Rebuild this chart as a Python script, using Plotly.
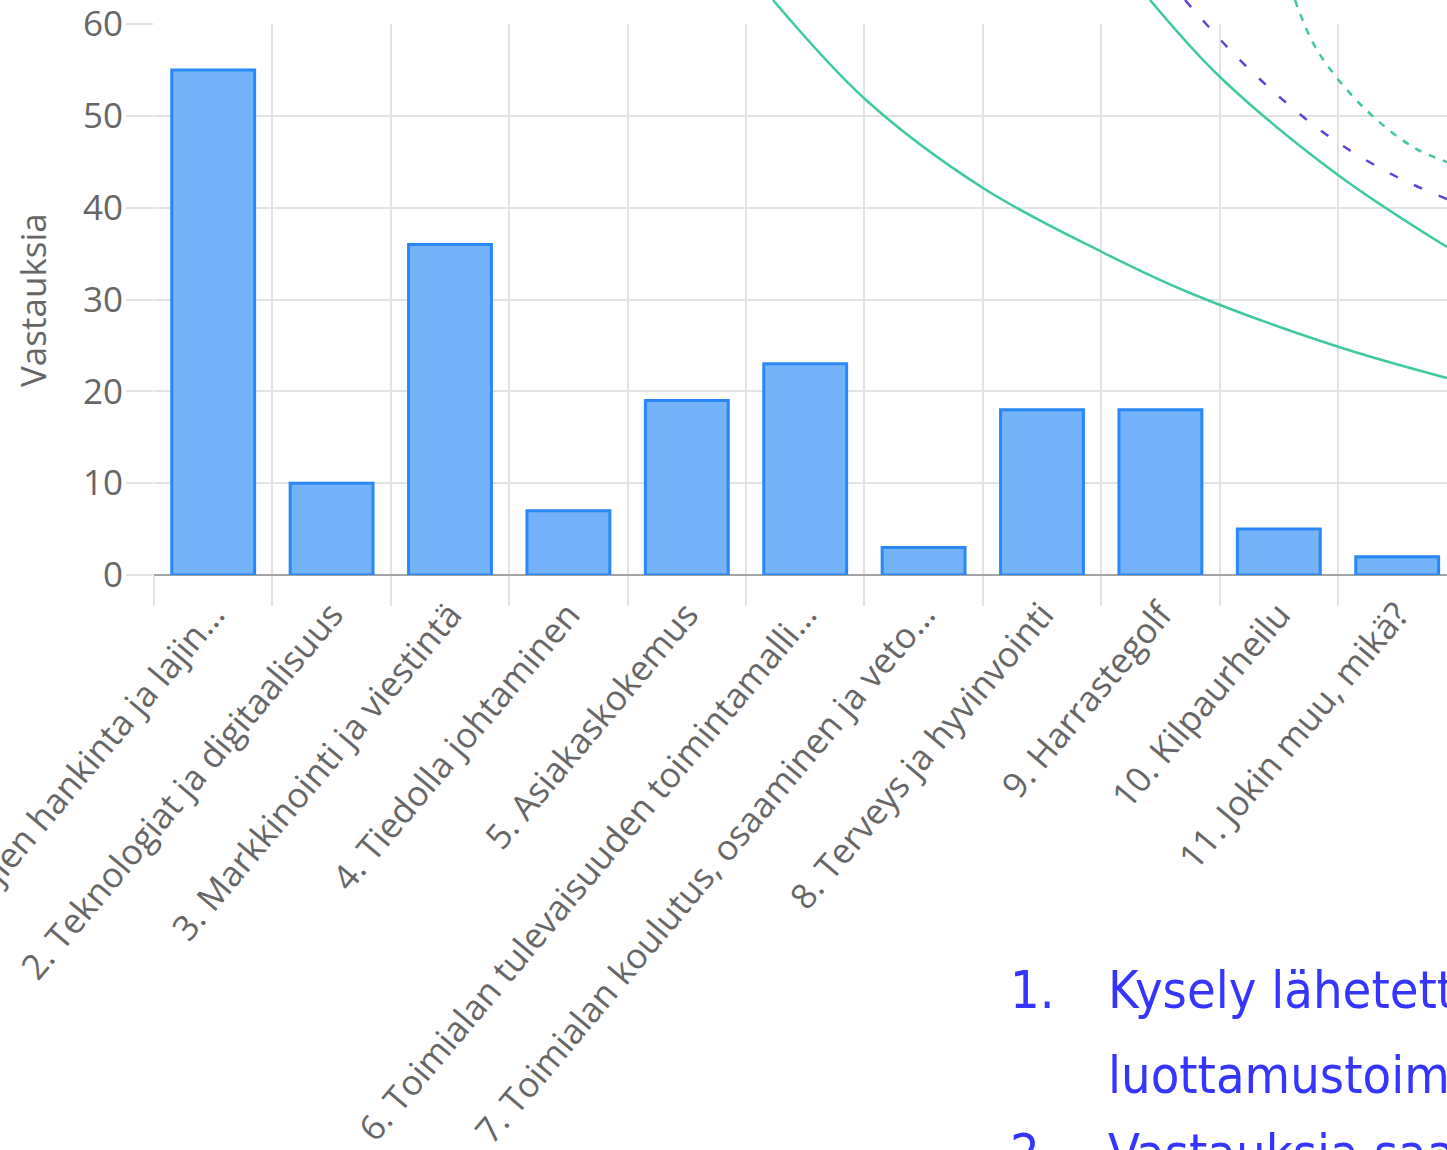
import plotly.graph_objects as go

# ---- data ----
categories = [
    "1. Uusien harrastajien hankinta ja lajin…",
    "2. Teknologiat ja digitaalisuus",
    "3. Markkinointi ja viestintä",
    "4. Tiedolla johtaminen",
    "5. Asiakaskokemus",
    "6. Toimialan tulevaisuuden toimintamalli…",
    "7. Toimialan koulutus, osaaminen ja veto…",
    "8. Terveys ja hyvinvointi",
    "9. Harrastegolf",
    "10. Kilpaurheilu",
    "11. Jokin muu, mikä?",
]
values = [55, 10, 36, 7, 19, 23, 3, 18, 18, 5, 2]
y_ticks = [0, 10, 20, 30, 40, 50, 60]
y_title = "Vastauksia"

# slide text (partly visible at the crop edge)
slide_lines = [("1.", "Kysely lähetett"), ("", "luottamustoim"), ("2.", "Vastauksia saat")]

# decorative background curves of the slide (pixel space)
curve_a_x = [773, 866, 983, 1102, 1190, 1339, 1447]
curve_a_y = [0, 100, 188, 252, 293, 347, 378]
curve_b_x = [1150, 1220, 1338, 1447]
curve_b_y = [0, 77, 175, 247]
curve_c_x = [1185, 1233, 1283, 1337, 1397, 1447]
curve_c_y = [0, 53, 100, 142, 177, 199]
curve_d_x = [1295, 1317, 1363, 1413, 1447]
curve_d_y = [0, 50, 107, 147, 162]

W, H = 1447, 1150
grid = "#e3e3e3"
tick_col = "#666666"
FONT = "Open Sans"
FS = 35

n = len(categories)
xs = list(range(n))
x_range = [-0.5, -0.5 + (W - 154) / 118.4]

fig = go.Figure()

fig.add_trace(go.Bar(
    x=xs, y=values, width=0.7,
    marker=dict(color="#74b2f9", line=dict(color="#2a87f7", width=3)),
    xaxis="x", yaxis="y", showlegend=False, hoverinfo="skip",
))
# invisible trace to activate boundary-grid axis
fig.add_trace(go.Scatter(x=[0], y=[0], xaxis="x2", yaxis="y", mode="markers",
                         marker=dict(opacity=0), showlegend=False, hoverinfo="skip"))

teal = "#3ec9a1"
purple = "#5a45d6"
for cx, cy, col, dash in [
    (curve_a_x, curve_a_y, teal, "solid"),
    (curve_b_x, curve_b_y, teal, "solid"),
    (curve_c_x, curve_c_y, purple, "9px,18px"),
    (curve_d_x, curve_d_y, teal, "7px,8px"),
]:
    fig.add_trace(go.Scatter(x=cx, y=cy, mode="lines", xaxis="x3", yaxis="y3",
                             line=dict(color=col, width=2.5, dash=dash, shape="spline",
                                       smoothing=1.0),
                             showlegend=False, hoverinfo="skip"))

x_dom = [154 / W, 1]
y_dom = [(H - 575) / H, (H - 24) / H]

fig.update_layout(
    width=W, height=H, autosize=False,
    margin=dict(l=0, r=0, t=0, b=0, pad=0),
    paper_bgcolor="white", plot_bgcolor="rgba(0,0,0,0)",
    xaxis=dict(
        domain=x_dom, range=x_range, anchor="y", automargin=False,
        tickmode="array", tickvals=xs, ticktext=categories,
        tickangle=-50, tickfont=dict(family=FONT, size=FS, color=tick_col),
        ticklabeloverflow="allow",
        showgrid=False, zeroline=False, showline=False,
        ticks="outside", ticklen=4, tickcolor="rgba(0,0,0,0)",
    ),
    xaxis2=dict(
        domain=x_dom, range=x_range, anchor="y", overlaying="x", automargin=False,
        tickmode="array", tickvals=[i - 0.5 for i in range(n + 1)],
        showticklabels=False, showgrid=True, gridcolor=grid, gridwidth=2,
        ticks="outside", ticklen=30, tickcolor=grid, tickwidth=2,
        zeroline=False, showline=False,
    ),
    yaxis=dict(
        domain=y_dom, range=[0, 60], anchor="x", automargin=False,
        tickmode="array", tickvals=y_ticks,
        tickfont=dict(family=FONT, size=FS, color=tick_col),
        ticklabeloverflow="allow", ticklabelstandoff=-4,
        showgrid=True, gridcolor=grid, gridwidth=2,
        ticks="outside", ticklen=27, tickcolor=grid, tickwidth=2,
        zeroline=True, zerolinecolor="#a3a3a3", zerolinewidth=2,
        showline=False,
    ),
    xaxis3=dict(domain=[0, 1], range=[0, W], anchor="y3", visible=False,
                fixedrange=True, automargin=False),
    yaxis3=dict(domain=[0, 1], range=[H, 0], anchor="x3", visible=False,
                fixedrange=True, automargin=False),
)

fig.add_annotation(
    text=y_title, xref="paper", yref="paper", x=32 / W, y=1 - 300 / H,
    xanchor="center", yanchor="middle",
    showarrow=False, textangle=-90,
    font=dict(family=FONT, size=FS, color=tick_col),
)

blue = "#3535ff"
slide_font = "DejaVu Sans Condensed, Liberation Sans Narrow, sans-serif"
SFS = 52
line_y = [990, 1075, 1153]
for (num, txt), ly in zip(slide_lines, line_y):
    if num:
        fig.add_annotation(text=num, xref="paper", yref="paper", x=1008 / W, y=1 - ly / H,
                           xanchor="left", yanchor="middle", showarrow=False,
                           font=dict(family=slide_font, size=SFS, color=blue))
    fig.add_annotation(text=txt, xref="paper", yref="paper", x=1106 / W, y=1 - ly / H,
                       xanchor="left", yanchor="middle", showarrow=False,
                       font=dict(family=slide_font, size=SFS, color=blue))

fig.write_html(
    "out.html",
    config={"displayModeBar": False},
    post_script="document.body.style.margin='0';document.body.style.overflow='hidden';",
)
